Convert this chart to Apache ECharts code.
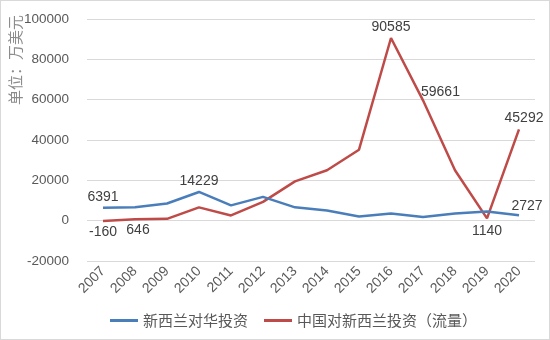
<!DOCTYPE html>
<html>
<head>
<meta charset="utf-8">
<script src="https://cdn.jsdelivr.net/npm/echarts@6/dist/echarts.min.js"></script>
<style>
  html, body { margin: 0; padding: 0; background: #fff; }
  #chart { width: 548px; height: 338px; border: 1px solid #d9d9d9; }
</style>
</head>
<body>
<div id="chart"></div>
<script>
// Years on the category axis
const years = ['2007','2008','2009','2010','2011','2012','2013','2014','2015','2016','2017','2018','2019','2020'];
// New Zealand investment in China (10k USD)
const nzToChina = [6391, 6600, 8500, 14229, 7600, 11800, 6600, 5000, 2100, 3500, 1800, 3500, 4600, 2727];
// China investment in New Zealand, flow (10k USD)
const chinaToNz = [-160, 646, 900, 6600, 2600, 9300, 19500, 25000, 35200, 90585, 59661, 25000, 1140, 45292];
// Y axis tick range
const yMin = -20000, yMax = 100000, yStep = 20000;

const seriesNames = ['新西兰对华投资', '中国对新西兰投资（流量）'];
const numFont = 'Liberation Sans, Arial, sans-serif';
const labelFont = { fontFamily: numFont, fontSize: 14, color: '#404040' };

// Data-point labels: index -> position/offset
function labelled(values, spec) {
  return values.map((v, i) => {
    const s = spec[i];
    if (!s) return { value: v, label: { show: false } };
    return {
      value: v,
      label: Object.assign({ show: true, formatter: String(v) }, labelFont, s)
    };
  });
}

const chart = echarts.init(document.getElementById('chart'));
chart.setOption({
  animation: false,
  grid: { left: 86, right: 14, top: 18, bottom: 78 },
  xAxis: {
    type: 'category',
    data: years,
    boundaryGap: true,
    axisLine: { show: false },
    axisTick: { show: false },
    axisLabel: { rotate: 45, fontFamily: numFont, fontSize: 14, color: '#595959', margin: 8 }
  },
  yAxis: {
    type: 'value',
    min: yMin, max: yMax, interval: yStep,
    axisLine: { show: false },
    axisTick: { show: false },
    axisLabel: { fontFamily: numFont, fontSize: 13.5, color: '#595959', margin: 18, formatter: v => String(v) },
    splitLine: { lineStyle: { color: '#d9d9d9', width: 1 } }
  },
  legend: {
    bottom: 6,
    left: 104,
    itemWidth: 28, itemHeight: 3, itemGap: 16,
    icon: 'rect',
    textStyle: { fontFamily: 'Noto Sans CJK SC', fontSize: 15, color: '#595959' },
    data: seriesNames
  },
  graphic: [{
    type: 'text',
    left: 7, top: 14,
    rotation: Math.PI / 2,
    style: { text: '单位：万美元', fontFamily: 'Noto Sans CJK SC', fontSize: 15, fill: '#8c8c8c' }
  }],
  series: [
    {
      name: seriesNames[0],
      type: 'line',
      data: labelled(nzToChina, {
        0: { position: 'top', distance: 4 },
        3: { position: 'top', distance: 4 },
        13: { position: 'top', offset: [8, 0], distance: 2 }
      }),
      symbol: 'circle',
      symbolSize: 0,
      showSymbol: true,
      lineStyle: { color: '#4A7EBB', width: 2.5 },
      itemStyle: { color: '#4A7EBB' },
      z: 3
    },
    {
      name: seriesNames[1],
      type: 'line',
      data: labelled(chinaToNz, {
        0: { position: 'bottom', distance: 4 },
        1: { position: 'bottom', offset: [3, 0], distance: 4 },
        9: { position: 'top', distance: 4 },
        10: { position: 'right', offset: [-2, -8], distance: 0 },
        12: { position: 'bottom', distance: 6 },
        13: { position: 'top', offset: [5, 0], distance: 4 }
      }),
      symbol: 'circle',
      symbolSize: 0,
      showSymbol: true,
      lineStyle: { color: '#BE4B48', width: 2.5 },
      itemStyle: { color: '#BE4B48' },
      z: 2
    }
  ]
});
</script>
</body>
</html>
